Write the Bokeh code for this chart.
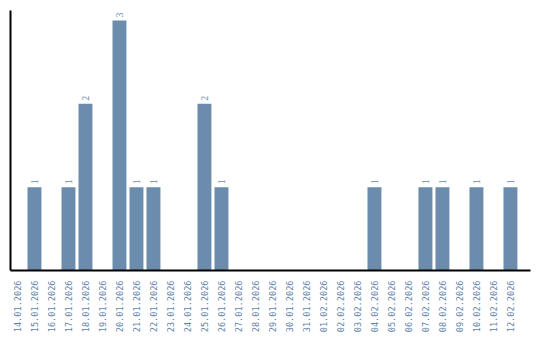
from math import pi
from bokeh.plotting import figure
from bokeh.models import ColumnDataSource, FixedTicker, Range1d
from bokeh.embed import file_html
from bokeh.resources import INLINE

dates = ["14.01.2026", "15.01.2026", "16.01.2026", "17.01.2026", "18.01.2026",
         "19.01.2026", "20.01.2026", "21.01.2026", "22.01.2026", "23.01.2026",
         "24.01.2026", "25.01.2026", "26.01.2026", "27.01.2026", "28.01.2026",
         "29.01.2026", "30.01.2026", "31.01.2026", "01.02.2026", "02.02.2026",
         "03.02.2026", "04.02.2026", "05.02.2026", "06.02.2026", "07.02.2026",
         "08.02.2026", "09.02.2026", "10.02.2026", "11.02.2026", "12.02.2026"]
counts = [0, 1, 0, 1, 2, 0, 3, 1, 1, 0, 0, 2, 1, 0, 0,
          0, 0, 0, 0, 0, 0, 1, 0, 0, 1, 1, 0, 1, 0, 1]

xs = list(range(len(dates)))
bx = [x for x, c in zip(xs, counts) if c > 0]
bc = [c for c in counts if c > 0]
src = ColumnDataSource(dict(x=bx, top=bc, label=[str(c) for c in bc]))

p = figure(width=540, height=340, output_backend="svg", toolbar_location=None,
           x_range=Range1d(-0.41, 30.18), y_range=Range1d(0, 3.12),
           min_border_left=10, min_border_right=10, min_border_top=10,
           min_border_bottom=0)
p.frame_width = 520
p.frame_height = 260
p.outline_line_color = None
p.xgrid.visible = False
p.ygrid.visible = False
p.background_fill_color = "white"
p.border_fill_color = "white"

p.vbar(x="x", top="top", bottom=0, width=0.82, source=src,
       fill_color="#6b8cac", line_color=None)
p.text(x="x", y="top", text="label", source=src, angle=pi / 2,
       text_align="left", text_baseline="middle", x_offset=0, y_offset=-3,
       text_font_size="10px", text_color="#6b8cac",
       text_font="DejaVu Sans Mono")

p.xaxis.ticker = FixedTicker(ticks=xs)
p.xaxis.major_label_overrides = {i: d for i, d in enumerate(dates)}
p.xaxis.major_label_orientation = pi / 2
p.xaxis.major_label_text_font = "DejaVu Sans Mono"
p.xaxis.major_label_text_font_size = "8.6px"
p.xaxis.major_label_text_color = "#5f84ab"
p.xaxis.major_tick_line_color = None
p.xaxis.minor_tick_line_color = None
p.xaxis.major_label_standoff = 4
p.xaxis.axis_line_color = "black"
p.xaxis.axis_line_width = 2

p.yaxis.ticker = FixedTicker(ticks=[])
p.yaxis.major_tick_line_color = None
p.yaxis.minor_tick_line_color = None
p.yaxis.major_label_standoff = 0
p.yaxis.axis_line_color = "black"
p.yaxis.axis_line_width = 2

open("out.html", "w").write(file_html(p, INLINE))
